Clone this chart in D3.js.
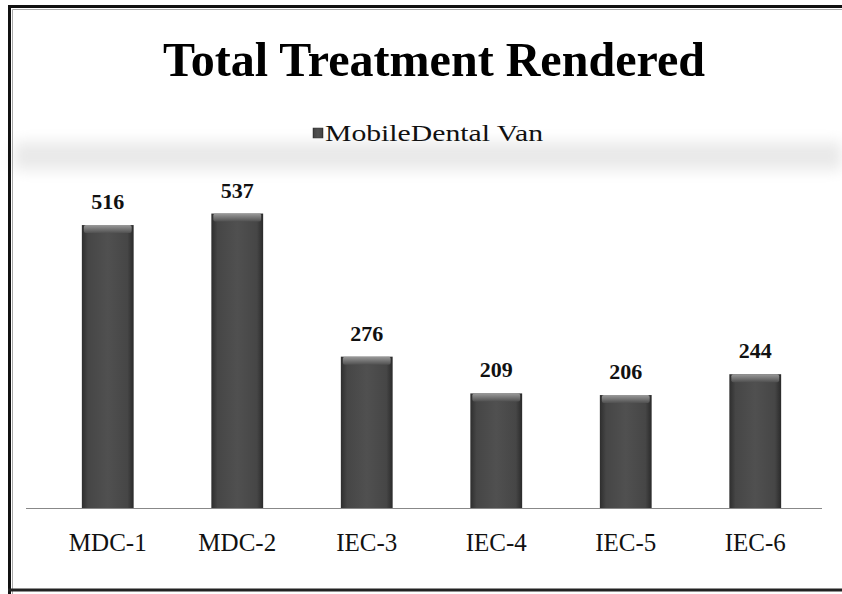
<!DOCTYPE html>
<html>
<head>
<meta charset="utf-8">
<script src="https://cdn.jsdelivr.net/npm/d3@7"></script>
<style>
  html, body { margin: 0; background: #fff; overflow: hidden; }
  svg { display: block; }
</style>
</head>
<body>
<svg id="chart" width="842" height="594"></svg>
<script>
var categories = ["MDC-1", "MDC-2", "IEC-3", "IEC-4", "IEC-5", "IEC-6"];
var values = [516, 537, 276, 209, 206, 244];
var seriesName = "MobileDental Van";
var titleText = "Total Treatment Rendered";

var svg = d3.select("#chart"),
    width = +svg.attr("width"),
    height = +svg.attr("height");

var serif = "Liberation Serif, Times New Roman, serif";

var defs = svg.append("defs");

// bar shading: darker edges, lighter middle
var grad = defs.append("linearGradient")
    .attr("id", "barGrad")
    .attr("x1", "0").attr("x2", "1").attr("y1", "0").attr("y2", "0");
grad.append("stop").attr("offset", "0%").attr("stop-color", "#2e2e2e");
grad.append("stop").attr("offset", "12%").attr("stop-color", "#464646");
grad.append("stop").attr("offset", "50%").attr("stop-color", "#505050");
grad.append("stop").attr("offset", "88%").attr("stop-color", "#464646");
grad.append("stop").attr("offset", "100%").attr("stop-color", "#2a2a2a");

var capGrad = defs.append("linearGradient")
    .attr("id", "capGrad")
    .attr("x1", "0").attr("x2", "0").attr("y1", "0").attr("y2", "1");
capGrad.append("stop").attr("offset", "0%").attr("stop-color", "#9a9a9a");
capGrad.append("stop").attr("offset", "100%").attr("stop-color", "#505050");

var blur = defs.append("filter").attr("id", "smudge")
    .attr("x", "-10%").attr("y", "-50%").attr("width", "120%").attr("height", "200%");
blur.append("feGaussianBlur").attr("stdDeviation", 7);

// faint scanned smudge across the legend band
svg.append("rect")
    .attr("x", 14).attr("y", 142)
    .attr("width", 828).attr("height", 28)
    .attr("fill", "#e9e9e9")
    .attr("filter", "url(#smudge)");

var x = d3.scaleBand()
    .domain(categories)
    .range([43, 820])
    .paddingInner(0.6)
    .paddingOuter(0.3);

var y = d3.scaleLinear()
    .domain([0, 600])
    .range([508, 179]);

// title
svg.append("text")
    .attr("x", 434).attr("y", 76)
    .attr("text-anchor", "middle")
    .attr("font-family", serif)
    .attr("font-weight", "bold")
    .attr("font-size", 48)
    .attr("textLength", 542)
    .attr("lengthAdjust", "spacingAndGlyphs")
    .attr("fill", "#000")
    .text(titleText);

// legend
var legend = svg.append("g");
legend.append("rect")
    .attr("x", 313).attr("y", 128)
    .attr("width", 10).attr("height", 10)
    .attr("fill", "url(#barGrad)")
    .attr("stroke", "#333").attr("stroke-width", 0.5);
legend.append("text")
    .attr("x", 325).attr("y", 141)
    .attr("font-family", serif)
    .attr("font-size", 23)
    .attr("textLength", 218)
    .attr("lengthAdjust", "spacingAndGlyphs")
    .attr("fill", "#111")
    .text(seriesName);

// baseline
svg.append("line")
    .attr("x1", 26).attr("x2", 822)
    .attr("y1", y(0) + 0.5).attr("y2", y(0) + 0.5)
    .attr("stroke", "#888").attr("stroke-width", 1.2);

// bars
var bars = svg.append("g").selectAll("g")
    .data(values)
    .enter()
    .append("g");

bars.append("rect")
    .attr("x", function (d, i) { return x(categories[i]); })
    .attr("y", function (d) { return y(d); })
    .attr("width", x.bandwidth())
    .attr("height", function (d) { return y(0) - y(d); })
    .attr("fill", "url(#barGrad)");

bars.append("rect")
    .attr("x", function (d, i) { return x(categories[i]) + 2; })
    .attr("y", function (d) { return y(d); })
    .attr("width", x.bandwidth() - 4)
    .attr("height", 8)
    .attr("rx", 2)
    .attr("fill", "url(#capGrad)");

// value labels
bars.append("text")
    .attr("x", function (d, i) { return x(categories[i]) + x.bandwidth() / 2; })
    .attr("y", function (d) { return y(d) - 16; })
    .attr("text-anchor", "middle")
    .attr("font-family", serif)
    .attr("font-weight", "bold")
    .attr("font-size", 22)
    .attr("fill", "#111")
    .text(function (d) { return d; });

// category axis
var xAxis = svg.append("g")
    .attr("transform", "translate(0," + y(0) + ")")
    .call(d3.axisBottom(x).tickSize(0).tickPadding(25));
xAxis.select(".domain").remove();
xAxis.selectAll("text")
    .style("font-family", serif)
    .style("font-size", "25px")
    .attr("fill", "#111");

// frame (left, top, bottom only)
svg.append("path")
    .attr("d", "M9.5,594 V6.5 H842")
    .attr("fill", "none").attr("stroke", "#111").attr("stroke-width", 3);
svg.append("path")
    .attr("d", "M12.5,594 V9.5 H842")
    .attr("fill", "none").attr("stroke", "#aaa").attr("stroke-width", 1);
svg.append("line")
    .attr("x1", 8).attr("x2", 842).attr("y1", 590).attr("y2", 590)
    .attr("stroke", "#222").attr("stroke-width", 3);
</script>
</body>
</html>
